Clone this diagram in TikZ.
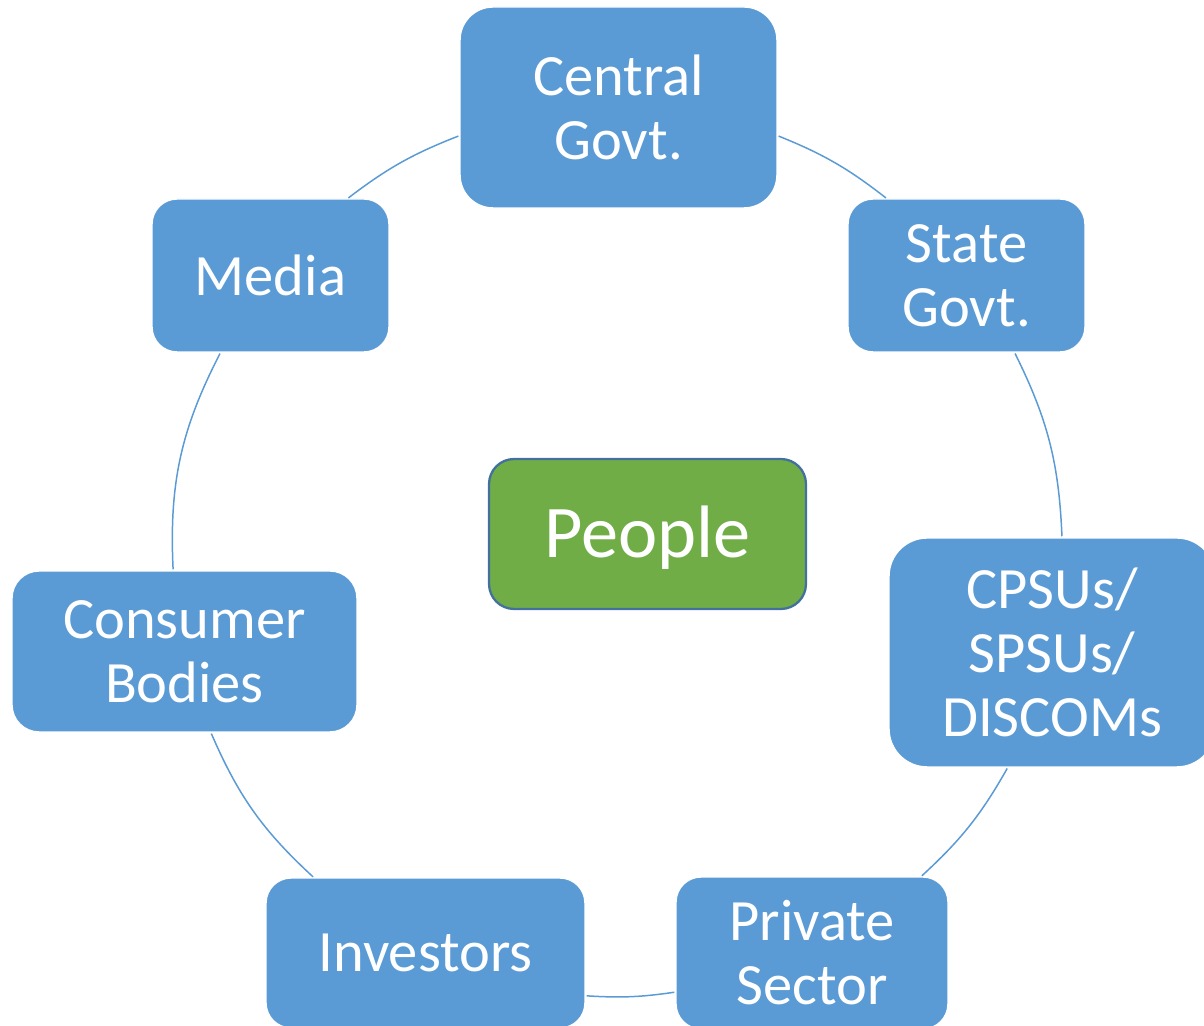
\documentclass[tikz,border=0pt]{standalone}
\usepackage{fontspec}
\setmainfont{Carlito}
\usetikzlibrary{shapes,arrows}
\definecolor{boxblue}{HTML}{5B9BD5}
\definecolor{peoplegreen}{HTML}{70AD47}
\definecolor{rimblue}{HTML}{41719C}
\tikzstyle{b} = [rectangle, fill=boxblue, draw=white, line width=0.8pt, text=white, align=center, inner sep=0pt, outer sep=0pt, font=\fontsize{33.3}{36.4}\selectfont]
\tikzstyle{pp} = [rectangle, fill=peoplegreen, draw=rimblue, line width=1.3pt, text=white, align=center, inner sep=0pt, outer sep=0pt, text depth=2.3pt, font=\fontsize{42.3}{46}\selectfont]
\tikzstyle{l} = [draw=boxblue, line width=0.85pt, shorten <=1pt, shorten >=1pt]

\begin{document}
\begin{tikzpicture}[x=0.02cm, y=0.02cm]
		\useasboundingbox (0,0) rectangle (1204,1026);
		\node[b, minimum width=6.34cm, minimum height=4.02cm, rounded corners=0.66cm](central) at (618.5,918.5){Central\\Govt.};
		\node[b, minimum width=4.74cm, minimum height=3.06cm, rounded corners=0.5cm](state) at (966.5,750.5){State\\Govt.};
		\node[b, minimum width=6.52cm, minimum height=4.58cm, rounded corners=0.76cm](cpsu) at (1052,373.5){CPSUs/\\SPSUs/\\DISCOMs};
		\node[b, minimum width=5.44cm, minimum height=3.04cm, rounded corners=0.5cm](private) at (812,73){Private\\Sector};
		\node[b, minimum width=6.38cm, minimum height=3.0cm, rounded corners=0.5cm](investors) at (425.5,73){Investors};
		\node[b, minimum width=6.9cm, minimum height=3.22cm, rounded corners=0.54cm](consumer) at (184.5,374.5){Consumer\\Bodies};
		\node[b, minimum width=4.74cm, minimum height=3.06cm, rounded corners=0.5cm](media) at (270.5,750.5){Media};
		\node[pp, minimum width=6.34cm, minimum height=3.0cm, rounded corners=0.5cm](people) at (647.5,492){People};

		% ring round the people
		\draw[l](central.-10) to[bend left=8] (state.136);
		\draw[l](state.-58) to[bend left=12] (cpsu.85);
		\draw[l](cpsu.-111) to[bend left=9] (private.35);
		\draw[l](private.196) to[bend left=6] (investors.-15);
		\draw[l](investors.146) to[bend left=12] (consumer.-72);
		\draw[l](consumer.98) to[bend left=15] (media.237);
		\draw[l](media.45) to[bend left=8] (central.190);
	\end{tikzpicture}
\end{document}
